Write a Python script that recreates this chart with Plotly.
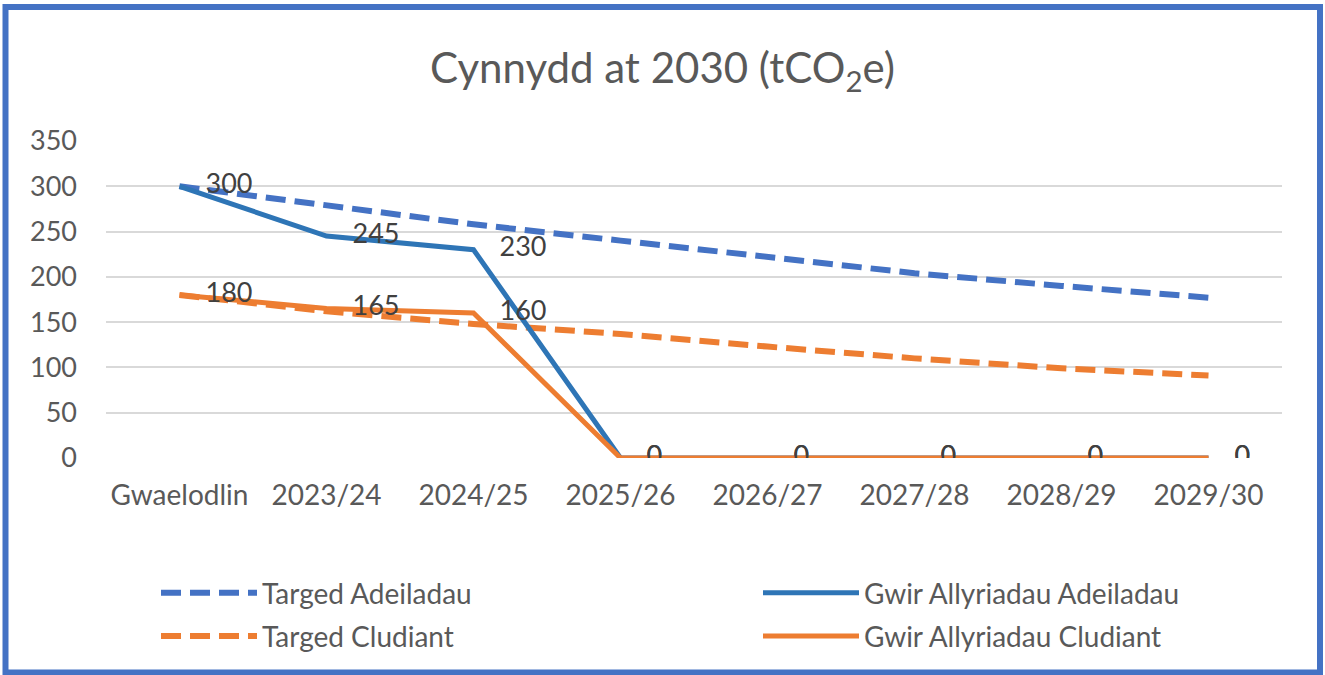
import plotly.graph_objects as go

categories = ["Gwaelodlin", "2023/24", "2024/25", "2025/26", "2026/27", "2027/28", "2028/29", "2029/30"]
targed_adeiladau = [300, 279, 258, 240, 222, 204, 190, 177]
gwir_adeiladau = [300, 245, 230, 0, 0, 0, 0, 0]
targed_cludiant = [180, 162, 148, 137, 123, 110, 99, 91]
gwir_cludiant = [180, 165, 160, 0, 0, 0, 0, 0]
y_ticks = [0, 50, 100, 150, 200, 250, 300, 350]

FONT = "Lato"
TXT = "#595959"
BLUE_D = "#4472C4"
BLUE_S = "#2E75B6"
ORANGE = "#ED7D31"
LBL = dict(family=FONT, size=27, color="#404040")

fig = go.Figure()
fig.add_trace(go.Scatter(
    x=categories, y=targed_adeiladau, name="Targed Adeiladau", mode="lines",
    line=dict(color=BLUE_D, width=6, dash="20px,9px"), legend="legend", legendgroup="a",
))
fig.add_trace(go.Scatter(
    x=categories, y=targed_cludiant, name="Targed Cludiant", mode="lines",
    line=dict(color=ORANGE, width=6, dash="20px,9px"), legend="legend", legendgroup="b",
))
fig.add_trace(go.Scatter(
    x=categories, y=gwir_adeiladau, name="Gwir Allyriadau Adeiladau", mode="lines+markers+text",
    line=dict(color=BLUE_S, width=5),
    marker=dict(size=40, color="rgba(0,0,0,0)"),
    text=[str(v) for v in gwir_adeiladau], textposition="middle right", textfont=LBL,
    legend="legend2", legendgroup="c",
))
fig.add_trace(go.Scatter(
    x=categories, y=gwir_cludiant, name="Gwir Allyriadau Cludiant", mode="lines+markers+text",
    line=dict(color=ORANGE, width=5),
    marker=dict(size=40, color="rgba(0,0,0,0)"),
    text=[str(v) for v in gwir_cludiant], textposition="middle right", textfont=LBL,
    legend="legend2", legendgroup="d",
))

L, R, T, B = 106, 43, 141, 217
W, H = 1325, 675
pw, ph = W - L - R, H - T - B

def px(x):
    return (x - L) / pw

def py(y):
    return (H - B - y) / ph

fig.add_shape(type="rect", xref="paper", yref="paper",
              x0=px(5.5), x1=px(1320), y0=py(672.5), y1=py(7),
              line=dict(color="#4472C4", width=6), fillcolor="rgba(0,0,0,0)", layer="below")

leg_common = dict(orientation="v", xanchor="left", yanchor="top", itemwidth=96,
                  tracegroupgap=4, font=dict(family=FONT, size=28, color=TXT),
                  bgcolor="rgba(0,0,0,0)")

fig.update_layout(
    width=W, height=H,
    margin=dict(l=L, r=R, t=T, b=B),
    paper_bgcolor="white", plot_bgcolor="white",
    font=dict(family=FONT, color=TXT),
    title=dict(text="Cynnydd at 2030 (tCO<sub>2</sub>e)", x=0.5, xanchor="center", xref="container",
               y=1 - 68 / H, yref="container", yanchor="middle",
               font=dict(family=FONT, size=42, color=TXT)),
    xaxis=dict(type="category", range=[-0.5, 7.5], showgrid=False, showline=False, zeroline=False,
               ticks="", tickfont=dict(family=FONT, size=28, color=TXT), ticklabelstandoff=18),
    yaxis=dict(range=[0, 350], tickvals=y_ticks, showgrid=True, gridcolor="#D9D9D9", gridwidth=2,
               zeroline=False, showline=False, ticks="",
               tickfont=dict(family=FONT, size=27, color=TXT), ticklabelstandoff=28),
    showlegend=True,
    legend=dict(x=px(156), y=py(568), **leg_common),
    legend2=dict(x=px(758), y=py(568), **leg_common),
)

fig.write_html("out.html", config={"displayModeBar": False},
               post_script="document.body.style.margin='0';document.body.style.overflow='hidden';")
